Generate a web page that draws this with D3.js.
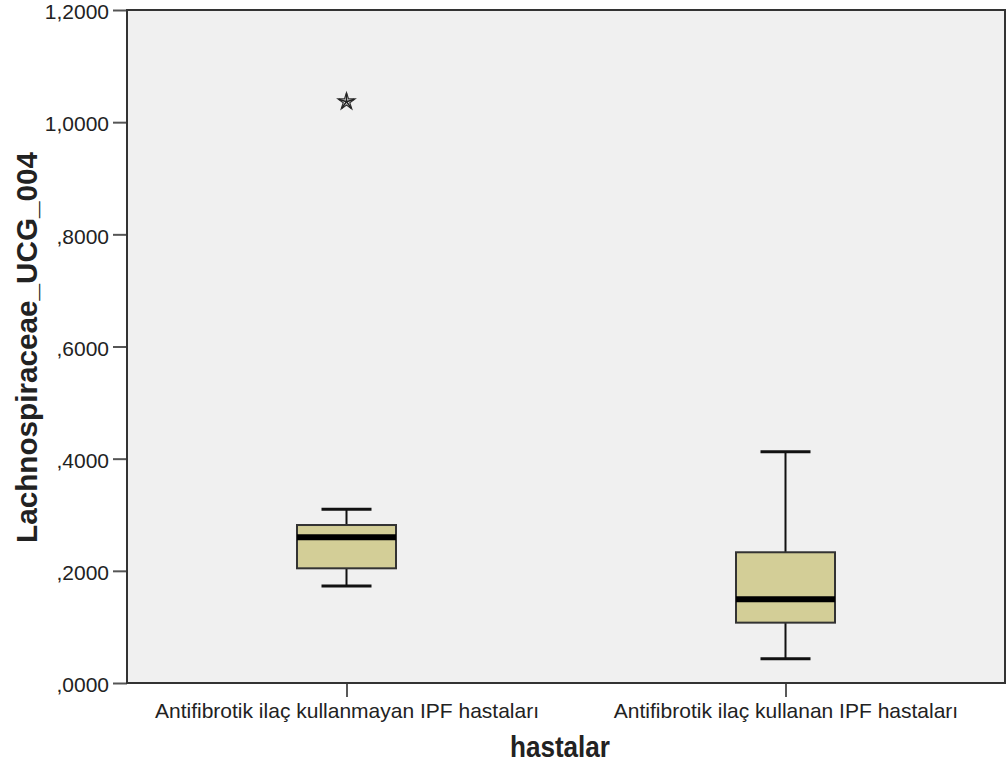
<!DOCTYPE html>
<html>
<head>
<meta charset="utf-8">
<script src="https://cdn.jsdelivr.net/npm/d3@7"></script>
<style>
body{margin:0;background:#fff;}
text{font-family:"Liberation Sans",Arial,sans-serif;fill:#222;}
</style>
</head>
<body>
<script>
var categories=["Antifibrotik ilaç kullanmayan IPF hastaları","Antifibrotik ilaç kullanan IPF hastaları"];
var whiskerLow=[0.173,0.0434];
var q1=[0.2045,0.1076];
var median=[0.2598,0.1492];
var q3=[0.2817,0.2331];
var whiskerHigh=[0.3097,0.4125];
var outliers=[[1.0366],[]];
var yTicks=[0,0.2,0.4,0.6,0.8,1.0,1.2];

var width=1007,height=766;
var pLeft=127,pRight=1005,pTop=10,pBottom=683;
var svg=d3.select("body").append("svg").attr("width",width).attr("height",height);

var yscale=d3.scaleLinear().domain([0,1.2]).range([pBottom,pTop]);
var xscale=d3.scalePoint().domain(categories).range([pLeft,pRight]).padding(0.5);

svg.append("rect").attr("x",pLeft).attr("y",pTop).attr("width",pRight-pLeft).attr("height",pBottom-pTop).attr("fill","#f0f0f0");

var fmt=function(v){return d3.format(".4f")(v).replace(".",",").replace(/^0,/,",");};
var yaxis=d3.axisLeft(yscale).tickValues(yTicks).tickFormat(fmt).tickSize(14).tickPadding(4);
var gy=svg.append("g").attr("transform","translate("+pLeft+",0)").call(yaxis);
gy.select(".domain").remove();
gy.selectAll("line").attr("stroke","#555").attr("stroke-width",2);
gy.selectAll("text").style("font-size","21px").attr("fill","#222").attr("y",2);

var xaxis=d3.axisBottom(xscale).tickSize(14).tickPadding(6);
var gx=svg.append("g").attr("transform","translate(0,"+pBottom+")").call(xaxis);
gx.select(".domain").remove();
gx.selectAll("line").attr("stroke","#222").attr("stroke-width",1.5);
gx.selectAll("text").style("font-size","21px").attr("fill","#222");

svg.append("rect").attr("x",pLeft).attr("y",pTop).attr("width",pRight-pLeft).attr("height",pBottom-pTop).attr("fill","none").attr("stroke","#333").attr("stroke-width",2);

var boxW=99,capW=50;
var data=categories.map(function(c,i){return {c:c,lo:whiskerLow[i],q1:q1[i],med:median[i],q3:q3[i],hi:whiskerHigh[i],out:outliers[i]};});
var g=svg.selectAll(".box").data(data).enter().append("g").attr("class","box");
g.append("line").attr("x1",function(d){return xscale(d.c);}).attr("x2",function(d){return xscale(d.c);})
 .attr("y1",function(d){return yscale(d.hi);}).attr("y2",function(d){return yscale(d.q3);}).attr("stroke","#111").attr("stroke-width",2);
g.append("line").attr("x1",function(d){return xscale(d.c);}).attr("x2",function(d){return xscale(d.c);})
 .attr("y1",function(d){return yscale(d.q1);}).attr("y2",function(d){return yscale(d.lo);}).attr("stroke","#111").attr("stroke-width",2);
["hi","lo"].forEach(function(k){
 g.append("line").attr("x1",function(d){return xscale(d.c)-capW/2;}).attr("x2",function(d){return xscale(d.c)+capW/2;})
  .attr("y1",function(d){return yscale(d[k]);}).attr("y2",function(d){return yscale(d[k]);}).attr("stroke","#111").attr("stroke-width",3);
});
g.append("rect").attr("x",function(d){return xscale(d.c)-boxW/2;}).attr("width",boxW)
 .attr("y",function(d){return yscale(d.q3);}).attr("height",function(d){return yscale(d.q1)-yscale(d.q3);})
 .attr("fill","#d3ce97").attr("stroke","#333").attr("stroke-width",2);
g.append("line").attr("x1",function(d){return xscale(d.c)-boxW/2;}).attr("x2",function(d){return xscale(d.c)+boxW/2;})
 .attr("y1",function(d){return yscale(d.med);}).attr("y2",function(d){return yscale(d.med);}).attr("stroke","#000").attr("stroke-width",6);

// outlier stars: outline plus spokes
var starR=9;
g.each(function(d){
 var s=d3.select(this).selectAll(".out").data(d.out).enter().append("g").attr("class","out")
  .attr("transform",function(v){return "translate("+xscale(d.c)+","+yscale(v)+")";});
 s.append("path").attr("d",d3.symbol().type(d3.symbolStar).size(starR*starR/0.8908)())
  .attr("fill","none").attr("stroke","#333").attr("stroke-width",1.2);
 d3.range(5).forEach(function(i){
  var a=-Math.PI/2+i*2*Math.PI/5;
  s.append("line").attr("x1",0).attr("y1",0).attr("x2",Math.cos(a)*starR*0.9).attr("y2",Math.sin(a)*starR*0.9)
   .attr("stroke","#222").attr("stroke-width",1.6);
 });
});

svg.append("text").attr("x",560).attr("y",757).attr("text-anchor","middle")
 .attr("textLength",100).attr("lengthAdjust","spacingAndGlyphs")
 .style("font-size","29px").style("font-weight","bold").text("hastalar");
svg.append("text").attr("transform","translate(37,347.5) rotate(-90)").attr("text-anchor","middle")
 .attr("textLength",391).attr("lengthAdjust","spacingAndGlyphs")
 .style("font-size","29px").style("font-weight","bold").text("Lachnospiraceae_UCG_004");
</script>
</body>
</html>
